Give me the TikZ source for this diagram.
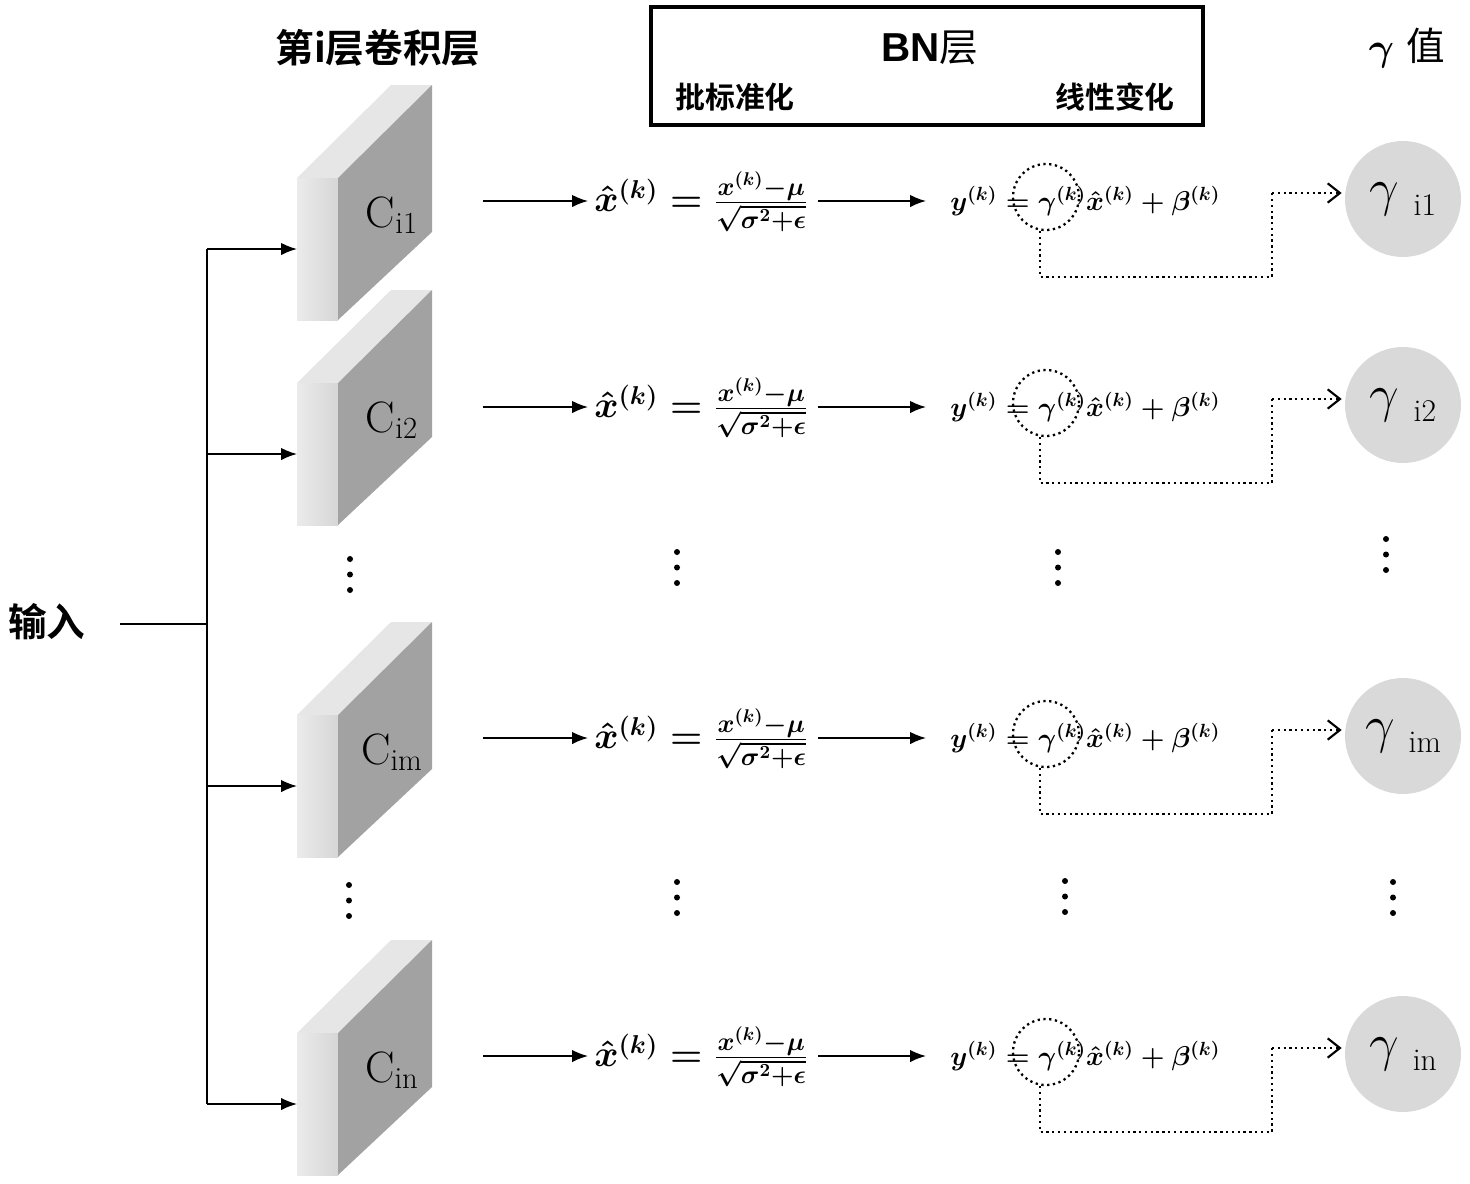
\RequirePackage{fix-cm}
\documentclass[tikz,border=0pt]{standalone}
\usepackage{fontspec}
\usepackage{amsmath}
\usetikzlibrary{arrows.meta,calc}
\newfontfamily\cjk{Noto Sans CJK SC}
\newfontfamily\cjkb{Noto Sans CJK SC Bold}
\newfontfamily\arialb{Liberation Sans}
\definecolor{frontl}{HTML}{EBEBEB}
\definecolor{frontr}{HTML}{D6D6D6}
\definecolor{topc}{HTML}{E6E6E6}
\definecolor{sidec}{HTML}{A2A2A2}
\definecolor{gcirc}{HTML}{D9D9D9}
\tikzset{
  arr/.style={line width=0.9pt,-{Latex[length=9pt,width=7pt]}},
  fb/.style={line width=1.3pt,dotted},
  fbarr/.style={line width=1.3pt,dotted,-{Straight Barb[length=7pt,width=11pt,line width=1.2pt]}},
  eq/.style={inner sep=0pt,font=\fontsize{21}{24}\selectfont\boldmath},
  eqb/.style={inner sep=0pt,font=\fontsize{15.5}{18}\selectfont\boldmath},
  gnode/.style={circle,fill=gcirc,minimum size=2.32cm,inner sep=0pt},
  ring/.style={circle,draw,line width=1.3pt,dotted,minimum size=1.32cm,inner sep=0pt}
}
\begin{document}
\begin{tikzpicture}[x=0.02cm,y=-0.02cm]
\useasboundingbox (0,0) rectangle (1470,1183);
% headers
\node[font=\cjkb\fontsize{22}{24}\selectfont] (hconv) at (378,48) {第i层卷积层};
\node[draw,line width=2pt,minimum width=11.04cm,minimum height=2.36cm,inner sep=0pt] (bnbox) at (927,66) {};
\node (bnt) at (930,48) {{\arialb\bfseries\fontsize{23}{25}\selectfont BN}{\cjk\fontsize{22}{24}\selectfont 层}};
\node[font=\cjkb\fontsize{17}{19}\selectfont] (pbz) at (735,97) {批标准化};
\node[font=\cjkb\fontsize{17}{19}\selectfont] (xxbh) at (1115,97) {线性变化};
\node (gval) at (1407,48) {{\fontsize{22}{24}\selectfont$\boldsymbol{\gamma}$}\hspace{7pt}{\cjk\fontsize{22}{24}\selectfont 值}};
% input
\node[font=\cjkb\fontsize{22}{24}\selectfont] (inp) at (47,622) {输入};
\coordinate (inL) at (120,624);
\coordinate (trunk) at (207,624);
\draw[line width=1.5pt] (inL) -- (trunk);
\coordinate (ttop) at (207,249);
\coordinate (tbot) at (207,1104);
\draw[line width=0.9pt] (ttop) -- (tbot);
% blocks and rows
\foreach \t/\lab/\n/\r/\cy in {85/i1/a/201/197, 290/i2/b/407/403, 622/im/c/738/734, 940/in/d/1056/1052}{
  \fill[topc] (297,\t+93) -- (338,\t+93) -- (432,\t) -- (391,\t) -- cycle;
  \shade[left color=frontl,right color=frontr] (297,\t+93) rectangle (338,\t+235);
  \fill[sidec] (338,\t+93) -- (432,\t) -- (432,\t+147) -- (338,\t+235) -- cycle;
  \node[font=\fontsize{25}{28}\selectfont] (C\n) at (392,\t+130) {$\mathrm{C}_{\mathrm{\lab}}$};
  \coordinate (br\n) at (207,\t+164);
  \coordinate (bf\n) at (297,\t+164);
  \draw[arr] (br\n) -- (bf\n);
  % formula 1
  \coordinate (s\n) at (483,\r);
  \node[eq,anchor=west] (f\n) at (594,\r+1) {$\hat{x}^{(k)}=\frac{x^{(k)}-\mu}{\sqrt{\sigma^2+\epsilon}}$};
  \draw[arr] (s\n) -- ($(s\n -| f\n.west)+(-6,0)$);
  \coordinate (t\n) at (818,\r);
  \node[eqb,anchor=west] (g\n) at (950,\r) {$y^{(k)}=\gamma^{(k)}\hat{x}^{(k)}+\beta^{(k)}$};
  \draw[arr] (t\n) -- ($(t\n -| g\n.west)+(-24,0)$);
  % dotted ring and feedback
  \node[ring] (c\n) at (1046,\cy) {};
  \node[gnode] (G\n) at (1403,\cy+2) {{\fontsize{30}{30}\selectfont$\gamma$}\hspace{8pt}\raisebox{-6pt}{\fontsize{18}{18}\selectfont \lab}};
  \coordinate (k1\n) at (1272,\r+76);
  \coordinate (k2\n) at (1272,\r-8);
  \draw[fb] ($(c\n.south)+(-6,0)$) |- (k1\n) -- (k2\n);
  \draw[fbarr] (k2\n) -- ($(k2\n -| G\n.west)+(-3,0)$);
}
% vertical dots
\foreach \x/\y in {350/559, 677/552, 1058/552, 1386/539, 349/885, 677/882, 1065/881, 1393/882}{
  \fill (\x,\y) circle (3);
  \fill (\x,\y+15.5) circle (3);
  \fill (\x,\y+31) circle (3);
}
\end{tikzpicture}
\end{document}
